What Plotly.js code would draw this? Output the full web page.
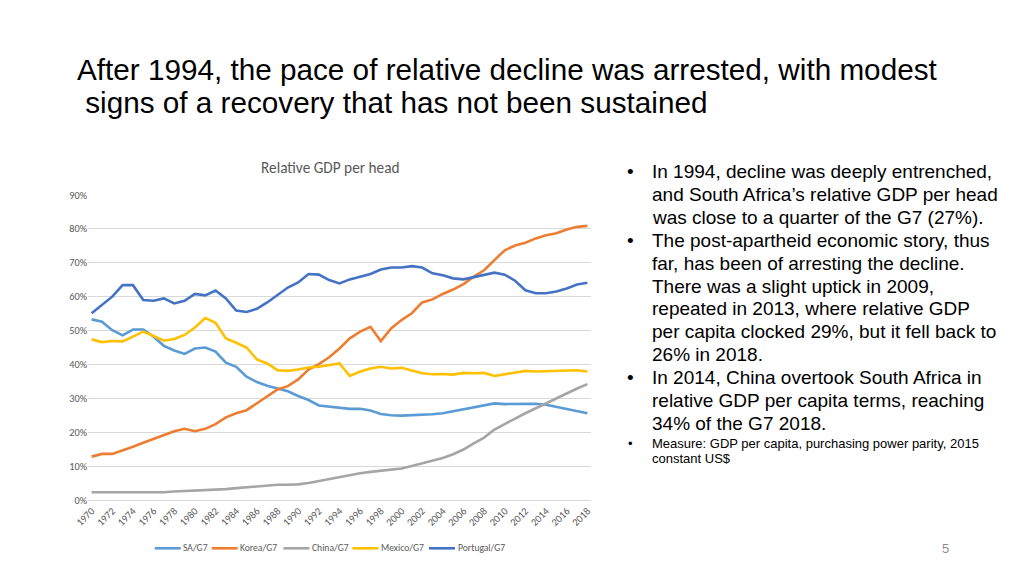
<!DOCTYPE html>
<html>
<head>
<meta charset="utf-8">
<script src="https://cdn.plot.ly/plotly-3.0.1.min.js"></script>
<style>
  html, body { margin: 0; padding: 0; background: #ffffff; }
  #chart { width: 1024px; height: 575px; }
</style>
</head>
<body>
<div id="chart"></div>
<script>
// ---- Data (percent of G7 GDP per head) ----
const years = [1970,1971,1972,1973,1974,1975,1976,1977,1978,1979,1980,1981,1982,1983,1984,1985,1986,1987,1988,1989,1990,1991,1992,1993,1994,1995,1996,1997,1998,1999,2000,2001,2002,2003,2004,2005,2006,2007,2008,2009,2010,2011,2012,2013,2014,2015,2016,2017,2018];

const saG7 = [53.3,52.6,50.1,48.6,50.3,50.3,48.2,45.5,44.1,43.1,44.7,45.0,43.8,40.5,39.3,36.4,34.8,33.7,32.9,32.1,30.7,29.5,27.9,27.5,
              27.3,26.9,26.9,26.4,25.4,25.0,24.9,25.0,25.2,25.3,25.6,26.2,26.7,27.5,28.1,28.5,28.3,28.3,28.4,28.4,28.1,27.5,26.9,26.4,25.6];
const koreaG7 = [12.8,13.6,13.6,14.6,15.7,16.9,18.1,19.3,20.3,21.0,20.3,21.0,22.4,24.4,25.6,26.5,28.5,30.7,32.6,33.6,35.6,38.5,40.1,42.1,
                 44.7,47.7,49.7,51.1,46.9,50.6,53.1,55.1,58.3,59.2,60.8,62.1,63.7,65.9,67.8,70.8,73.7,75.1,75.9,77.2,78.1,78.7,79.8,80.6,80.9];
const chinaG7 = [2.3,2.3,2.2,2.2,2.2,2.4,2.2,2.3,2.5,2.6,2.7,2.8,3.0,3.2,3.5,3.8,4.0,4.2,4.5,4.5,4.6,5.0,5.6,6.3,
                 6.9,7.3,7.9,8.3,8.7,8.9,9.3,10.0,10.8,11.6,12.4,13.5,14.9,16.7,18.4,20.8,22.3,24.0,25.6,27.1,28.6,30.1,31.5,32.9,34.2];
const mexicoG7 = [47.4,46.6,46.9,46.8,48.2,49.7,48.4,47.0,47.5,48.7,50.9,53.7,52.3,47.7,46.4,45.0,41.5,40.3,38.3,38.1,38.5,39.1,39.3,39.8,
                  40.3,36.6,37.9,38.8,39.3,38.8,39.0,38.2,37.4,37.1,37.2,37.0,37.5,37.4,37.5,36.6,37.1,37.6,38.1,37.9,38.0,38.2,38.4,38.3,37.9];
const portugalG7 = [55.1,57.5,60.0,63.4,63.4,59.0,58.8,59.5,58.0,58.8,60.8,60.4,61.8,59.5,55.9,55.5,56.4,58.3,60.5,62.7,64.2,66.7,66.5,64.9,
                    63.9,65.1,65.9,66.7,68.0,68.6,68.6,69.0,68.6,66.9,66.3,65.4,65.1,65.7,66.4,67.1,66.5,64.7,61.9,61.0,61.0,61.5,62.4,63.6,64.1];

const seriesNames = ['SA/G7','Korea/G7','China/G7','Mexico/G7','Portugal/G7'];
const seriesValues = [saG7, koreaG7, chinaG7, mexicoG7, portugalG7];
const seriesColors = ['#5B9BD5','#ED7D31','#A5A5A5','#FFC000','#4472C4'];

const xTickVals = [1970,1972,1974,1976,1978,1980,1982,1984,1986,1988,1990,1992,1994,1996,1998,2000,2002,2004,2006,2008,2010,2012,2014,2016,2018];
const xTickText = xTickVals.map(String);
const yTickVals = [0,10,20,30,40,50,60,70,80,90];
const yTickText = yTickVals.map(v => v + '%');

// ---- Text ----
const slideTitle = ['After 1994, the pace of relative decline was arrested, with modest',
                    ' signs of a recovery that has not been sustained'];
const chartTitle = 'Relative GDP per head';
const bulletLines = [
  {b:true,  t:'In 1994, decline was deeply entrenched,'},
  {b:false, t:'and South Africa\u2019s relative GDP per head'},
  {b:false, t:'was close to a quarter of the G7 (27%).'},
  {b:true,  t:'The post-apartheid economic story, thus'},
  {b:false, t:'far, has been of arresting the decline.'},
  {b:false, t:'There was a slight uptick in 2009,'},
  {b:false, t:'repeated in 2013, where relative GDP'},
  {b:false, t:'per capita clocked 29%, but it fell back to'},
  {b:false, t:'26% in 2018.'},
  {b:true,  t:'In 2014, China overtook South Africa in'},
  {b:false, t:'relative GDP per capita terms, reaching'},
  {b:false, t:'34% of the G7 2018.'}
];
const noteLines = ['Measure: GDP per capita, purchasing power parity, 2015', 'constant US$'];
const pageNumber = '5';

// ---- Layout geometry ----
const W = 1024, H = 575;
const M = {l: 88, r: 433, t: 195, b: 75};
const PW = W - M.l - M.r, PH = H - M.t - M.b;
const px = x => (x - M.l) / PW;
const py = y => (H - M.b - y) / PH;

const traces = seriesNames.map((name, i) => ({
  type: 'scatter', mode: 'lines', name: name,
  x: years, y: seriesValues[i],
  line: {color: seriesColors[i], width: 2.6},
  hoverinfo: 'skip', showlegend: false
}));

const annotations = [];
const shapes = [];
function addText(text, x, y, size, color, family, xanchor) {
  annotations.push({
    text: text, xref: 'paper', yref: 'paper', x: px(x), y: py(y),
    xanchor: xanchor || 'left', yanchor: 'middle', showarrow: false,
    align: 'left', borderpad: 0, font: {size: size, color: color, family: family}
  });
}
const ARIAL = 'Liberation Sans, Arial, sans-serif';
const CAL = 'Carlito, Lato, sans-serif';
addText(slideTitle[0], 76, 69, 29.7, '#000000', ARIAL);
addText(slideTitle[1], 76, 102, 29.7, '#000000', ARIAL);
addText(chartTitle, 330, 167, 15.3, '#595959', CAL, 'center');

const lineY0 = 171.7, lineStep = 22.88;
bulletLines.forEach((ln, i) => {
  const y = lineY0 + i * lineStep;
  if (ln.b) addText('\u2022', 626, y, 19, '#000000', ARIAL);
  addText(ln.t, 651, y, 19, '#000000', ARIAL);
});
addText('\u2022', 627, 443.3, 13, '#000000', ARIAL);
addText(noteLines[0], 651, 443.3, 13, '#000000', ARIAL);
addText(noteLines[1], 651, 458.3, 13, '#000000', ARIAL);
addText(pageNumber, 941, 548, 13, '#8c8c8c', ARIAL);

// ---- Legend (swatch + label per series) ----
const legendY = 548.3;
const legendSwatchX = [154.8, 211.7, 283.4, 352.4, 429.0];
const swatchLen = 26;
seriesNames.forEach((name, i) => {
  const x0 = legendSwatchX[i];
  shapes.push({
    type: 'line', xref: 'paper', yref: 'paper',
    x0: px(x0), x1: px(x0 + swatchLen), y0: py(legendY), y1: py(legendY),
    line: {color: seriesColors[i], width: 2.6}
  });
  addText(name, x0 + swatchLen + 1.5, legendY, 9.6, '#595959', CAL);
});

const layout = {
  width: W, height: H,
  margin: M,
  paper_bgcolor: '#ffffff', plot_bgcolor: '#ffffff',
  showlegend: false,
  xaxis: {
    type: 'linear', range: [1969.65, 2018.35],
    tickmode: 'array', tickvals: xTickVals, ticktext: xTickText,
    tickangle: -45, showgrid: false, zeroline: false,
    showline: true, linecolor: '#d9d9d9', linewidth: 1,
    ticks: '', tickfont: {size: 10.3, color: '#595959', family: CAL},
    fixedrange: true
  },
  yaxis: {
    range: [0, 90], tickmode: 'array', tickvals: yTickVals, ticktext: yTickText,
    showgrid: true, gridcolor: '#d9d9d9', gridwidth: 1, zeroline: false,
    showline: false, ticks: '',
    tickfont: {size: 10.3, color: '#595959', family: CAL},
    fixedrange: true
  },
  annotations: annotations,
  shapes: shapes
};

Plotly.newPlot('chart', traces, layout, {staticPlot: true, displayModeBar: false});
</script>
</body>
</html>
